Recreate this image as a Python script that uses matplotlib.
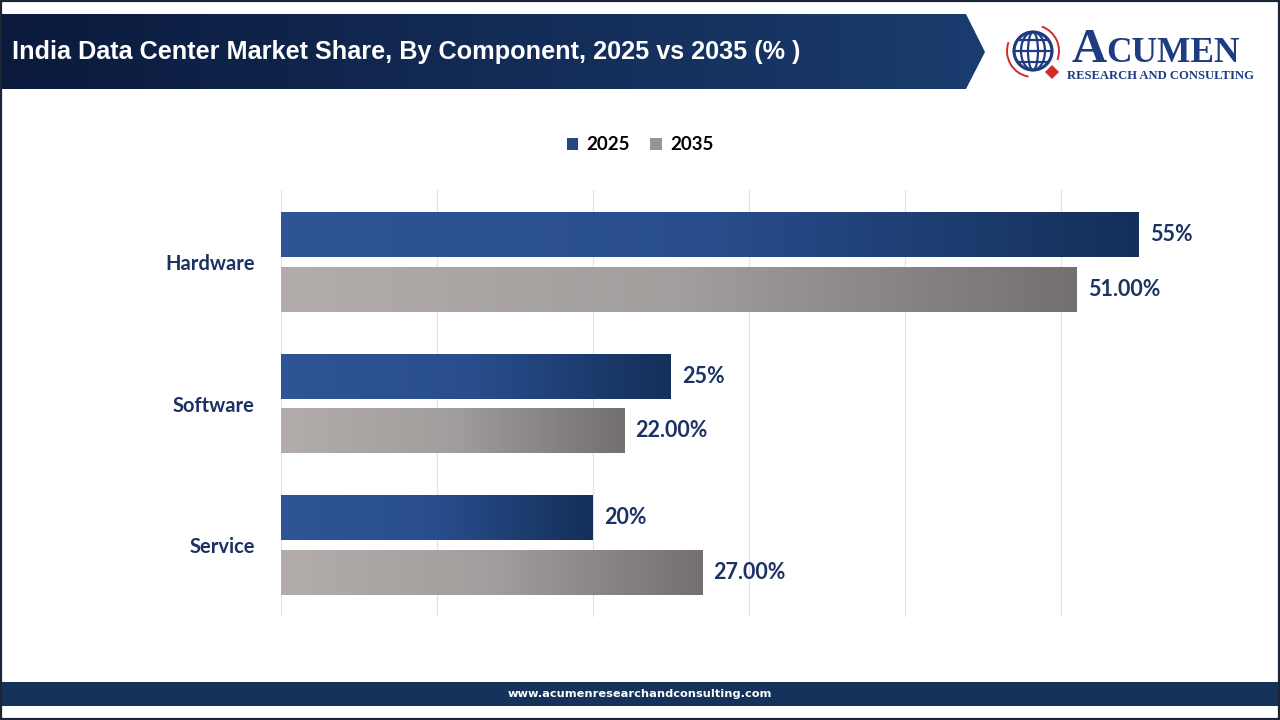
import matplotlib.pyplot as plt
import numpy as np
from matplotlib.colors import LinearSegmentedColormap
from matplotlib.patches import Polygon, Rectangle, Circle, Ellipse, Arc

categories = ['Hardware', 'Software', 'Service']
share_2025 = [55, 25, 20]
share_2035 = [51.0, 22.0, 27.0]
years = ['2025', '2035']

title = 'India Data Center Market Share, By Component, 2025 vs 2035 (% )'
footer = 'www.acumenresearchandconsulting.com'

navy_text = '#1b3262'
cmap_2025 = LinearSegmentedColormap.from_list('c25', ['#2f5597', '#294d8c', '#13305a'])
cmap_2035 = LinearSegmentedColormap.from_list('c35', ['#b2adab', '#a29e9d', '#747070'])
cmap_banner = LinearSegmentedColormap.from_list('bn', ['#0b1a3c', '#1a3c6e'])

W, H = 1280, 720
fig = plt.figure(figsize=(12.8, 7.2), dpi=100)

# overlay in pixel coords for header / footer / logo
bg = fig.add_axes([0, 0, 1, 1], zorder=0)
bg.set_xlim(0, W)
bg.set_ylim(H, 0)
bg.axis('off')

grad = np.linspace(0, 1, 256).reshape(1, -1)

# header banner
banner = Polygon([(0, 14), (966, 14), (985, 52), (966, 89), (0, 89)], closed=True,
                 facecolor='none', edgecolor='none')
bg.add_patch(banner)
im = bg.imshow(grad, cmap=cmap_banner, extent=[0, 985, 89, 14], aspect='auto', zorder=1)
im.set_clip_path(banner)
bg.text(12, 52, title, color='white', fontsize=18.2, fontweight='bold',
        family='Liberation Sans', ha='left', va='center', zorder=3)

# logo
logo_c = '#1d3c82'
gx, gy, gr = 1033, 51, 19
bg.add_patch(Circle((gx, gy), gr, facecolor='white', edgecolor=logo_c, lw=2.2, zorder=3))
for w in [38, 24, 10]:
    bg.add_patch(Ellipse((gx, gy), w, 38, facecolor='none', edgecolor=logo_c, lw=1.6, zorder=3))
for dy in [-11, 0, 11]:
    half = np.sqrt(gr ** 2 - dy ** 2)
    bg.plot([gx - half, gx + half], [gy + dy, gy + dy], color=logo_c, lw=1.6, zorder=3)
bg.add_patch(Arc((gx, gy), 52, 52, theta1=100, theta2=200, color='#d42a2a', lw=1.4, zorder=3))
bg.add_patch(Arc((gx, gy), 52, 52, theta1=290, theta2=20, color='#d42a2a', lw=1.4, zorder=3))
bg.add_patch(Polygon([(1052, 65), (1059, 72), (1052, 79), (1045, 72)], closed=True,
                     facecolor='#d42a2a', edgecolor='none', zorder=4))
bg.text(1072, 62, 'A', color=logo_c, fontsize=35, fontweight='bold',
        family='Liberation Serif', ha='left', va='baseline', zorder=3)
bg.text(1106, 62, 'CUMEN', color=logo_c, fontsize=25.5, fontweight='bold',
        family='Liberation Serif', ha='left', va='baseline', zorder=3)
bg.text(1067, 79, 'RESEARCH AND CONSULTING', color=logo_c, fontsize=9.1, fontweight='bold',
        family='Liberation Serif', ha='left', va='baseline', zorder=3)

# footer
bg.add_patch(Rectangle((0, 682), W, 24, facecolor='#14325a', edgecolor='none', zorder=1))
bg.text(W / 2, 694, footer, color='white', fontsize=8.2, fontweight='bold',
        ha='center', va='center', zorder=3)

# outer frame
bg.add_patch(Rectangle((0.8, 0.8), W - 1.6, H - 1.6, facecolor='none',
                       edgecolor='#1a2535', lw=1.6, zorder=5))

# main chart
left, right, top, bottom = 281, 1217, 190, 617
ax = fig.add_axes([left / W, 1 - bottom / H, (right - left) / W, (bottom - top) / H], zorder=1)
ax.set_facecolor('none')

y = np.arange(len(categories))
bh = 0.318
off = 0.194
bars_a = ax.barh(y - off, share_2025, height=bh, color='none', label=years[0])
bars_b = ax.barh(y + off, share_2035, height=bh, color='none', label=years[1])

for bars, cmap in [(bars_a, cmap_2025), (bars_b, cmap_2035)]:
    for p in bars:
        x0, y0, w, h = p.get_x(), p.get_y(), p.get_width(), p.get_height()
        gi = ax.imshow(grad, cmap=cmap, extent=[x0, x0 + w, y0 + h, y0],
                       aspect='auto', zorder=2)
        gi.set_clip_path(p)

for i, v in enumerate(share_2025):
    ax.annotate(f'{v:.0f}%', (v, y[i] - off), xytext=(8, 0), textcoords='offset points',
                va='center', ha='left', fontsize=15.5, fontweight='bold', color=navy_text,
                family='Lato')
for i, v in enumerate(share_2035):
    ax.annotate(f'{v:.2f}%', (v, y[i] + off), xytext=(8, 0), textcoords='offset points',
                va='center', ha='left', fontsize=15.5, fontweight='bold', color=navy_text,
                family='Lato')

ax.set_xlim(0, 60)
ax.set_ylim(len(categories) - 0.49, -0.51)
for gxv in range(0, 60, 10):
    ax.axvline(gxv, color='#e3e3e3', lw=0.9, zorder=0)
ax.set_xticks([])
ax.set_yticks(y)
ax.set_yticklabels(categories, fontsize=14.5, fontweight='bold', color=navy_text, family='Lato')
ax.tick_params(axis='y', length=0, pad=19)
for s in ax.spines.values():
    s.set_visible(False)

# legend
handles = [Rectangle((0, 0), 1, 1, facecolor='#26477f'),
           Rectangle((0, 0), 1, 1, facecolor='#9a9594')]
fig.legend(handles, years, loc='center', bbox_to_anchor=(0.5, 1 - 145 / H), ncol=2,
           frameon=False, handlelength=0.6, handleheight=0.6, handletextpad=0.45,
           columnspacing=1.1, prop={'family': 'Lato', 'weight': 'bold', 'size': 13.5})

fig.savefig('out.png', dpi=100)
